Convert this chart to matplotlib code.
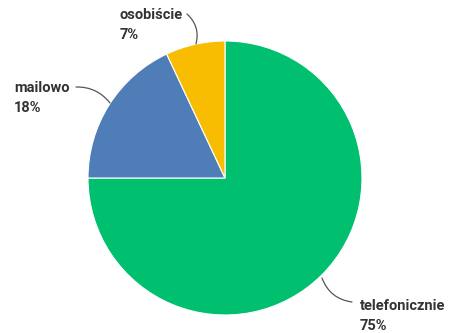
import matplotlib.pyplot as plt

labels = ['telefonicznie', 'mailowo', 'osobiście']
shares = [75, 18, 7]
colors = ['#00bf6f', '#4f7db7', '#f8bd00']

H = 333
fig = plt.figure(figsize=(4.5, 3.33), dpi=100)
ax = fig.add_axes([0, 0, 1, 1])

ax.pie(shares, colors=colors, startangle=90, counterclock=False,
       center=(225, H - 178), radius=137,
       wedgeprops=dict(edgecolor='white', linewidth=0.8))

# pie() resets the limits, so fix them afterwards
ax.set_xlim(0, 450)
ax.set_ylim(0, H)
ax.set_aspect('equal')
ax.axis('off')

# baseline of the first label line, leader line start and its end on the rim
label_pos = {'telefonicznie': (360, H - 310), 'mailowo': (14, H - 92), 'osobiście': (120, H - 19)}
line_start = {'telefonicznie': (352, H - 302), 'mailowo': (76, H - 87), 'osobiście': (187, H - 14)}
line_end = {'telefonicznie': (322, H - 278), 'mailowo': (110, H - 103), 'osobiście': (196, H - 44)}
rads = {'telefonicznie': -0.3, 'mailowo': -0.25, 'osobiście': -0.3}

for name, val in zip(labels, shares):
    x, y = label_pos[name]
    for i, s in enumerate([name, f'{val}%']):
        ax.text(x, y - 20 * i, s, fontsize=10.5, fontweight='bold', family='Roboto',
                color='#333333', ha='left', va='baseline')
    ax.annotate('', xy=line_end[name], xytext=line_start[name],
                arrowprops=dict(arrowstyle='-', color='#555555', lw=0.9,
                                connectionstyle=f'arc3,rad={rads[name]}',
                                shrinkA=0, shrinkB=0))

fig.savefig('out.png', dpi=100)
